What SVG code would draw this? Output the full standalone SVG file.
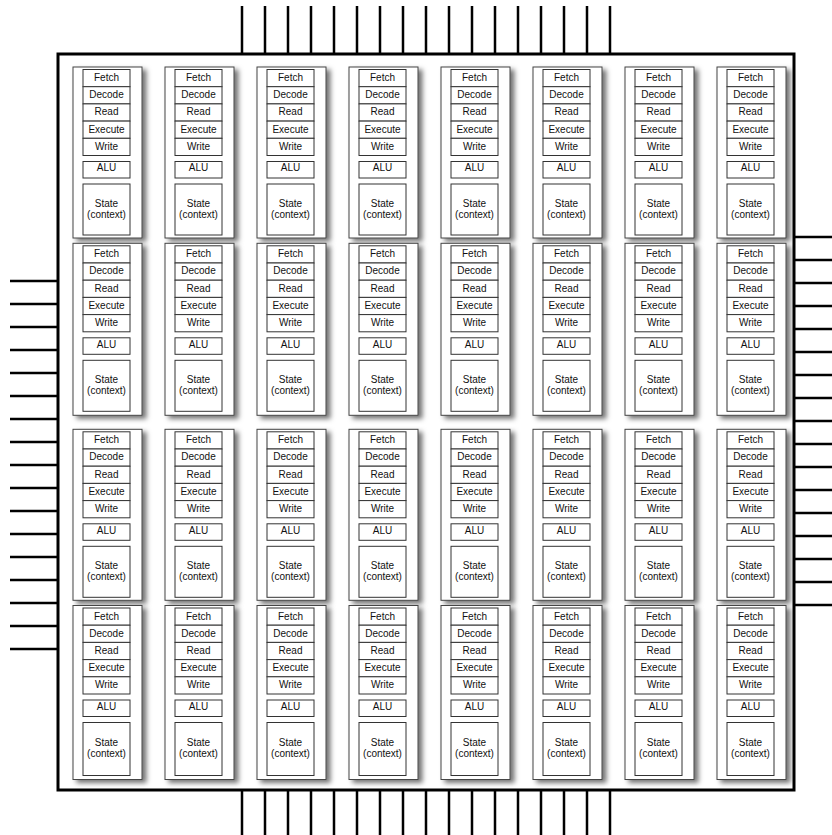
<svg xmlns="http://www.w3.org/2000/svg" width="832" height="835" viewBox="0 0 832 835">
<defs>
<filter id="sh" x="-20%" y="-10%" width="150%" height="130%"><feDropShadow dx="4" dy="3" stdDeviation="2.5" flood-color="#000" flood-opacity="0.55"/></filter>
<style>
.core{fill:#fff;stroke:#444;stroke-width:1;filter:url(#sh)}
.b{fill:#fff;stroke:#333;stroke-width:1}
text{font-family:"Liberation Sans",Arial,Helvetica,sans-serif;font-size:10px;text-anchor:middle;fill:#111}
.pin{fill:none;stroke:#000;stroke-width:2.5}
.chip{fill:none;stroke:#000;stroke-width:3}
</style>
</defs>
<rect width="832" height="835" fill="#fff"/>
<g id="pins">
<path class="pin" d="M242 6V54M265 6V54M288 6V54M311 6V54M334 6V54M357 6V54M380 6V54M403 6V54M426 6V54M449 6V54M472 6V54M495 6V54M518 6V54M541 6V54M564 6V54M587 6V54M610 6V54"/>
<path class="pin" d="M242 790V835M265 790V835M288 790V835M311 790V835M334 790V835M357 790V835M380 790V835M403 790V835M426 790V835M449 790V835M472 790V835M495 790V835M518 790V835M541 790V835M564 790V835M587 790V835M610 790V835"/>
<path class="pin" d="M10 281H58M10 304H58M10 327H58M10 350H58M10 373H58M10 396H58M10 419H58M10 442H58M10 465H58M10 488H58M10 511H58M10 534H58M10 557H58M10 580H58M10 603H58M10 626H58M10 649H58"/>
<path class="pin" d="M794 237H832M794 260H832M794 283H832M794 306H832M794 329H832M794 352H832M794 375H832M794 398H832M794 421H832M794 444H832M794 467H832M794 490H832M794 513H832M794 536H832M794 559H832M794 582H832M794 605H832"/>
</g>
<g id="chip"><rect class="chip" x="58" y="54" width="736" height="736"/></g>
<g id="cores">
<g id="core-1-1" transform="translate(73,67)"><rect class="core" width="69" height="171"/><rect class="b" x="10" y="2.5" width="47" height="17.2"/><text x="33.5" y="14">Fetch</text><rect class="b" x="10" y="19.7" width="47" height="17.2"/><text x="33.5" y="31.2">Decode</text><rect class="b" x="10" y="36.9" width="47" height="17.2"/><text x="33.5" y="48.4">Read</text><rect class="b" x="10" y="54.1" width="47" height="17.2"/><text x="33.5" y="65.6">Execute</text><rect class="b" x="10" y="71.3" width="47" height="17.2"/><text x="33.5" y="82.8">Write</text><rect class="b" x="10" y="94.5" width="47" height="16.5"/><text x="33.5" y="104.3">ALU</text><rect class="b" x="10" y="117" width="47" height="51"/><text x="33.5" y="139.5">State</text><text x="33.5" y="150.5">(context)</text></g>
<g id="core-1-2" transform="translate(165,67)"><rect class="core" width="69" height="171"/><rect class="b" x="10" y="2.5" width="47" height="17.2"/><text x="33.5" y="14">Fetch</text><rect class="b" x="10" y="19.7" width="47" height="17.2"/><text x="33.5" y="31.2">Decode</text><rect class="b" x="10" y="36.9" width="47" height="17.2"/><text x="33.5" y="48.4">Read</text><rect class="b" x="10" y="54.1" width="47" height="17.2"/><text x="33.5" y="65.6">Execute</text><rect class="b" x="10" y="71.3" width="47" height="17.2"/><text x="33.5" y="82.8">Write</text><rect class="b" x="10" y="94.5" width="47" height="16.5"/><text x="33.5" y="104.3">ALU</text><rect class="b" x="10" y="117" width="47" height="51"/><text x="33.5" y="139.5">State</text><text x="33.5" y="150.5">(context)</text></g>
<g id="core-1-3" transform="translate(257,67)"><rect class="core" width="69" height="171"/><rect class="b" x="10" y="2.5" width="47" height="17.2"/><text x="33.5" y="14">Fetch</text><rect class="b" x="10" y="19.7" width="47" height="17.2"/><text x="33.5" y="31.2">Decode</text><rect class="b" x="10" y="36.9" width="47" height="17.2"/><text x="33.5" y="48.4">Read</text><rect class="b" x="10" y="54.1" width="47" height="17.2"/><text x="33.5" y="65.6">Execute</text><rect class="b" x="10" y="71.3" width="47" height="17.2"/><text x="33.5" y="82.8">Write</text><rect class="b" x="10" y="94.5" width="47" height="16.5"/><text x="33.5" y="104.3">ALU</text><rect class="b" x="10" y="117" width="47" height="51"/><text x="33.5" y="139.5">State</text><text x="33.5" y="150.5">(context)</text></g>
<g id="core-1-4" transform="translate(349,67)"><rect class="core" width="69" height="171"/><rect class="b" x="10" y="2.5" width="47" height="17.2"/><text x="33.5" y="14">Fetch</text><rect class="b" x="10" y="19.7" width="47" height="17.2"/><text x="33.5" y="31.2">Decode</text><rect class="b" x="10" y="36.9" width="47" height="17.2"/><text x="33.5" y="48.4">Read</text><rect class="b" x="10" y="54.1" width="47" height="17.2"/><text x="33.5" y="65.6">Execute</text><rect class="b" x="10" y="71.3" width="47" height="17.2"/><text x="33.5" y="82.8">Write</text><rect class="b" x="10" y="94.5" width="47" height="16.5"/><text x="33.5" y="104.3">ALU</text><rect class="b" x="10" y="117" width="47" height="51"/><text x="33.5" y="139.5">State</text><text x="33.5" y="150.5">(context)</text></g>
<g id="core-1-5" transform="translate(441,67)"><rect class="core" width="69" height="171"/><rect class="b" x="10" y="2.5" width="47" height="17.2"/><text x="33.5" y="14">Fetch</text><rect class="b" x="10" y="19.7" width="47" height="17.2"/><text x="33.5" y="31.2">Decode</text><rect class="b" x="10" y="36.9" width="47" height="17.2"/><text x="33.5" y="48.4">Read</text><rect class="b" x="10" y="54.1" width="47" height="17.2"/><text x="33.5" y="65.6">Execute</text><rect class="b" x="10" y="71.3" width="47" height="17.2"/><text x="33.5" y="82.8">Write</text><rect class="b" x="10" y="94.5" width="47" height="16.5"/><text x="33.5" y="104.3">ALU</text><rect class="b" x="10" y="117" width="47" height="51"/><text x="33.5" y="139.5">State</text><text x="33.5" y="150.5">(context)</text></g>
<g id="core-1-6" transform="translate(533,67)"><rect class="core" width="69" height="171"/><rect class="b" x="10" y="2.5" width="47" height="17.2"/><text x="33.5" y="14">Fetch</text><rect class="b" x="10" y="19.7" width="47" height="17.2"/><text x="33.5" y="31.2">Decode</text><rect class="b" x="10" y="36.9" width="47" height="17.2"/><text x="33.5" y="48.4">Read</text><rect class="b" x="10" y="54.1" width="47" height="17.2"/><text x="33.5" y="65.6">Execute</text><rect class="b" x="10" y="71.3" width="47" height="17.2"/><text x="33.5" y="82.8">Write</text><rect class="b" x="10" y="94.5" width="47" height="16.5"/><text x="33.5" y="104.3">ALU</text><rect class="b" x="10" y="117" width="47" height="51"/><text x="33.5" y="139.5">State</text><text x="33.5" y="150.5">(context)</text></g>
<g id="core-1-7" transform="translate(625,67)"><rect class="core" width="69" height="171"/><rect class="b" x="10" y="2.5" width="47" height="17.2"/><text x="33.5" y="14">Fetch</text><rect class="b" x="10" y="19.7" width="47" height="17.2"/><text x="33.5" y="31.2">Decode</text><rect class="b" x="10" y="36.9" width="47" height="17.2"/><text x="33.5" y="48.4">Read</text><rect class="b" x="10" y="54.1" width="47" height="17.2"/><text x="33.5" y="65.6">Execute</text><rect class="b" x="10" y="71.3" width="47" height="17.2"/><text x="33.5" y="82.8">Write</text><rect class="b" x="10" y="94.5" width="47" height="16.5"/><text x="33.5" y="104.3">ALU</text><rect class="b" x="10" y="117" width="47" height="51"/><text x="33.5" y="139.5">State</text><text x="33.5" y="150.5">(context)</text></g>
<g id="core-1-8" transform="translate(717,67)"><rect class="core" width="69" height="171"/><rect class="b" x="10" y="2.5" width="47" height="17.2"/><text x="33.5" y="14">Fetch</text><rect class="b" x="10" y="19.7" width="47" height="17.2"/><text x="33.5" y="31.2">Decode</text><rect class="b" x="10" y="36.9" width="47" height="17.2"/><text x="33.5" y="48.4">Read</text><rect class="b" x="10" y="54.1" width="47" height="17.2"/><text x="33.5" y="65.6">Execute</text><rect class="b" x="10" y="71.3" width="47" height="17.2"/><text x="33.5" y="82.8">Write</text><rect class="b" x="10" y="94.5" width="47" height="16.5"/><text x="33.5" y="104.3">ALU</text><rect class="b" x="10" y="117" width="47" height="51"/><text x="33.5" y="139.5">State</text><text x="33.5" y="150.5">(context)</text></g>
<g id="core-2-1" transform="translate(73,243.3)"><rect class="core" width="69" height="172"/><rect class="b" x="10" y="2.5" width="47" height="17.2"/><text x="33.5" y="14">Fetch</text><rect class="b" x="10" y="19.7" width="47" height="17.2"/><text x="33.5" y="31.2">Decode</text><rect class="b" x="10" y="36.9" width="47" height="17.2"/><text x="33.5" y="48.4">Read</text><rect class="b" x="10" y="54.1" width="47" height="17.2"/><text x="33.5" y="65.6">Execute</text><rect class="b" x="10" y="71.3" width="47" height="17.2"/><text x="33.5" y="82.8">Write</text><rect class="b" x="10" y="94.5" width="47" height="16.5"/><text x="33.5" y="104.3">ALU</text><rect class="b" x="10" y="117" width="47" height="51"/><text x="33.5" y="139.5">State</text><text x="33.5" y="150.5">(context)</text></g>
<g id="core-2-2" transform="translate(165,243.3)"><rect class="core" width="69" height="172"/><rect class="b" x="10" y="2.5" width="47" height="17.2"/><text x="33.5" y="14">Fetch</text><rect class="b" x="10" y="19.7" width="47" height="17.2"/><text x="33.5" y="31.2">Decode</text><rect class="b" x="10" y="36.9" width="47" height="17.2"/><text x="33.5" y="48.4">Read</text><rect class="b" x="10" y="54.1" width="47" height="17.2"/><text x="33.5" y="65.6">Execute</text><rect class="b" x="10" y="71.3" width="47" height="17.2"/><text x="33.5" y="82.8">Write</text><rect class="b" x="10" y="94.5" width="47" height="16.5"/><text x="33.5" y="104.3">ALU</text><rect class="b" x="10" y="117" width="47" height="51"/><text x="33.5" y="139.5">State</text><text x="33.5" y="150.5">(context)</text></g>
<g id="core-2-3" transform="translate(257,243.3)"><rect class="core" width="69" height="172"/><rect class="b" x="10" y="2.5" width="47" height="17.2"/><text x="33.5" y="14">Fetch</text><rect class="b" x="10" y="19.7" width="47" height="17.2"/><text x="33.5" y="31.2">Decode</text><rect class="b" x="10" y="36.9" width="47" height="17.2"/><text x="33.5" y="48.4">Read</text><rect class="b" x="10" y="54.1" width="47" height="17.2"/><text x="33.5" y="65.6">Execute</text><rect class="b" x="10" y="71.3" width="47" height="17.2"/><text x="33.5" y="82.8">Write</text><rect class="b" x="10" y="94.5" width="47" height="16.5"/><text x="33.5" y="104.3">ALU</text><rect class="b" x="10" y="117" width="47" height="51"/><text x="33.5" y="139.5">State</text><text x="33.5" y="150.5">(context)</text></g>
<g id="core-2-4" transform="translate(349,243.3)"><rect class="core" width="69" height="172"/><rect class="b" x="10" y="2.5" width="47" height="17.2"/><text x="33.5" y="14">Fetch</text><rect class="b" x="10" y="19.7" width="47" height="17.2"/><text x="33.5" y="31.2">Decode</text><rect class="b" x="10" y="36.9" width="47" height="17.2"/><text x="33.5" y="48.4">Read</text><rect class="b" x="10" y="54.1" width="47" height="17.2"/><text x="33.5" y="65.6">Execute</text><rect class="b" x="10" y="71.3" width="47" height="17.2"/><text x="33.5" y="82.8">Write</text><rect class="b" x="10" y="94.5" width="47" height="16.5"/><text x="33.5" y="104.3">ALU</text><rect class="b" x="10" y="117" width="47" height="51"/><text x="33.5" y="139.5">State</text><text x="33.5" y="150.5">(context)</text></g>
<g id="core-2-5" transform="translate(441,243.3)"><rect class="core" width="69" height="172"/><rect class="b" x="10" y="2.5" width="47" height="17.2"/><text x="33.5" y="14">Fetch</text><rect class="b" x="10" y="19.7" width="47" height="17.2"/><text x="33.5" y="31.2">Decode</text><rect class="b" x="10" y="36.9" width="47" height="17.2"/><text x="33.5" y="48.4">Read</text><rect class="b" x="10" y="54.1" width="47" height="17.2"/><text x="33.5" y="65.6">Execute</text><rect class="b" x="10" y="71.3" width="47" height="17.2"/><text x="33.5" y="82.8">Write</text><rect class="b" x="10" y="94.5" width="47" height="16.5"/><text x="33.5" y="104.3">ALU</text><rect class="b" x="10" y="117" width="47" height="51"/><text x="33.5" y="139.5">State</text><text x="33.5" y="150.5">(context)</text></g>
<g id="core-2-6" transform="translate(533,243.3)"><rect class="core" width="69" height="172"/><rect class="b" x="10" y="2.5" width="47" height="17.2"/><text x="33.5" y="14">Fetch</text><rect class="b" x="10" y="19.7" width="47" height="17.2"/><text x="33.5" y="31.2">Decode</text><rect class="b" x="10" y="36.9" width="47" height="17.2"/><text x="33.5" y="48.4">Read</text><rect class="b" x="10" y="54.1" width="47" height="17.2"/><text x="33.5" y="65.6">Execute</text><rect class="b" x="10" y="71.3" width="47" height="17.2"/><text x="33.5" y="82.8">Write</text><rect class="b" x="10" y="94.5" width="47" height="16.5"/><text x="33.5" y="104.3">ALU</text><rect class="b" x="10" y="117" width="47" height="51"/><text x="33.5" y="139.5">State</text><text x="33.5" y="150.5">(context)</text></g>
<g id="core-2-7" transform="translate(625,243.3)"><rect class="core" width="69" height="172"/><rect class="b" x="10" y="2.5" width="47" height="17.2"/><text x="33.5" y="14">Fetch</text><rect class="b" x="10" y="19.7" width="47" height="17.2"/><text x="33.5" y="31.2">Decode</text><rect class="b" x="10" y="36.9" width="47" height="17.2"/><text x="33.5" y="48.4">Read</text><rect class="b" x="10" y="54.1" width="47" height="17.2"/><text x="33.5" y="65.6">Execute</text><rect class="b" x="10" y="71.3" width="47" height="17.2"/><text x="33.5" y="82.8">Write</text><rect class="b" x="10" y="94.5" width="47" height="16.5"/><text x="33.5" y="104.3">ALU</text><rect class="b" x="10" y="117" width="47" height="51"/><text x="33.5" y="139.5">State</text><text x="33.5" y="150.5">(context)</text></g>
<g id="core-2-8" transform="translate(717,243.3)"><rect class="core" width="69" height="172"/><rect class="b" x="10" y="2.5" width="47" height="17.2"/><text x="33.5" y="14">Fetch</text><rect class="b" x="10" y="19.7" width="47" height="17.2"/><text x="33.5" y="31.2">Decode</text><rect class="b" x="10" y="36.9" width="47" height="17.2"/><text x="33.5" y="48.4">Read</text><rect class="b" x="10" y="54.1" width="47" height="17.2"/><text x="33.5" y="65.6">Execute</text><rect class="b" x="10" y="71.3" width="47" height="17.2"/><text x="33.5" y="82.8">Write</text><rect class="b" x="10" y="94.5" width="47" height="16.5"/><text x="33.5" y="104.3">ALU</text><rect class="b" x="10" y="117" width="47" height="51"/><text x="33.5" y="139.5">State</text><text x="33.5" y="150.5">(context)</text></g>
<g id="core-3-1" transform="translate(73,429.3)"><rect class="core" width="69" height="171"/><rect class="b" x="10" y="2.5" width="47" height="17.2"/><text x="33.5" y="14">Fetch</text><rect class="b" x="10" y="19.7" width="47" height="17.2"/><text x="33.5" y="31.2">Decode</text><rect class="b" x="10" y="36.9" width="47" height="17.2"/><text x="33.5" y="48.4">Read</text><rect class="b" x="10" y="54.1" width="47" height="17.2"/><text x="33.5" y="65.6">Execute</text><rect class="b" x="10" y="71.3" width="47" height="17.2"/><text x="33.5" y="82.8">Write</text><rect class="b" x="10" y="94.5" width="47" height="16.5"/><text x="33.5" y="104.3">ALU</text><rect class="b" x="10" y="117" width="47" height="51"/><text x="33.5" y="139.5">State</text><text x="33.5" y="150.5">(context)</text></g>
<g id="core-3-2" transform="translate(165,429.3)"><rect class="core" width="69" height="171"/><rect class="b" x="10" y="2.5" width="47" height="17.2"/><text x="33.5" y="14">Fetch</text><rect class="b" x="10" y="19.7" width="47" height="17.2"/><text x="33.5" y="31.2">Decode</text><rect class="b" x="10" y="36.9" width="47" height="17.2"/><text x="33.5" y="48.4">Read</text><rect class="b" x="10" y="54.1" width="47" height="17.2"/><text x="33.5" y="65.6">Execute</text><rect class="b" x="10" y="71.3" width="47" height="17.2"/><text x="33.5" y="82.8">Write</text><rect class="b" x="10" y="94.5" width="47" height="16.5"/><text x="33.5" y="104.3">ALU</text><rect class="b" x="10" y="117" width="47" height="51"/><text x="33.5" y="139.5">State</text><text x="33.5" y="150.5">(context)</text></g>
<g id="core-3-3" transform="translate(257,429.3)"><rect class="core" width="69" height="171"/><rect class="b" x="10" y="2.5" width="47" height="17.2"/><text x="33.5" y="14">Fetch</text><rect class="b" x="10" y="19.7" width="47" height="17.2"/><text x="33.5" y="31.2">Decode</text><rect class="b" x="10" y="36.9" width="47" height="17.2"/><text x="33.5" y="48.4">Read</text><rect class="b" x="10" y="54.1" width="47" height="17.2"/><text x="33.5" y="65.6">Execute</text><rect class="b" x="10" y="71.3" width="47" height="17.2"/><text x="33.5" y="82.8">Write</text><rect class="b" x="10" y="94.5" width="47" height="16.5"/><text x="33.5" y="104.3">ALU</text><rect class="b" x="10" y="117" width="47" height="51"/><text x="33.5" y="139.5">State</text><text x="33.5" y="150.5">(context)</text></g>
<g id="core-3-4" transform="translate(349,429.3)"><rect class="core" width="69" height="171"/><rect class="b" x="10" y="2.5" width="47" height="17.2"/><text x="33.5" y="14">Fetch</text><rect class="b" x="10" y="19.7" width="47" height="17.2"/><text x="33.5" y="31.2">Decode</text><rect class="b" x="10" y="36.9" width="47" height="17.2"/><text x="33.5" y="48.4">Read</text><rect class="b" x="10" y="54.1" width="47" height="17.2"/><text x="33.5" y="65.6">Execute</text><rect class="b" x="10" y="71.3" width="47" height="17.2"/><text x="33.5" y="82.8">Write</text><rect class="b" x="10" y="94.5" width="47" height="16.5"/><text x="33.5" y="104.3">ALU</text><rect class="b" x="10" y="117" width="47" height="51"/><text x="33.5" y="139.5">State</text><text x="33.5" y="150.5">(context)</text></g>
<g id="core-3-5" transform="translate(441,429.3)"><rect class="core" width="69" height="171"/><rect class="b" x="10" y="2.5" width="47" height="17.2"/><text x="33.5" y="14">Fetch</text><rect class="b" x="10" y="19.7" width="47" height="17.2"/><text x="33.5" y="31.2">Decode</text><rect class="b" x="10" y="36.9" width="47" height="17.2"/><text x="33.5" y="48.4">Read</text><rect class="b" x="10" y="54.1" width="47" height="17.2"/><text x="33.5" y="65.6">Execute</text><rect class="b" x="10" y="71.3" width="47" height="17.2"/><text x="33.5" y="82.8">Write</text><rect class="b" x="10" y="94.5" width="47" height="16.5"/><text x="33.5" y="104.3">ALU</text><rect class="b" x="10" y="117" width="47" height="51"/><text x="33.5" y="139.5">State</text><text x="33.5" y="150.5">(context)</text></g>
<g id="core-3-6" transform="translate(533,429.3)"><rect class="core" width="69" height="171"/><rect class="b" x="10" y="2.5" width="47" height="17.2"/><text x="33.5" y="14">Fetch</text><rect class="b" x="10" y="19.7" width="47" height="17.2"/><text x="33.5" y="31.2">Decode</text><rect class="b" x="10" y="36.9" width="47" height="17.2"/><text x="33.5" y="48.4">Read</text><rect class="b" x="10" y="54.1" width="47" height="17.2"/><text x="33.5" y="65.6">Execute</text><rect class="b" x="10" y="71.3" width="47" height="17.2"/><text x="33.5" y="82.8">Write</text><rect class="b" x="10" y="94.5" width="47" height="16.5"/><text x="33.5" y="104.3">ALU</text><rect class="b" x="10" y="117" width="47" height="51"/><text x="33.5" y="139.5">State</text><text x="33.5" y="150.5">(context)</text></g>
<g id="core-3-7" transform="translate(625,429.3)"><rect class="core" width="69" height="171"/><rect class="b" x="10" y="2.5" width="47" height="17.2"/><text x="33.5" y="14">Fetch</text><rect class="b" x="10" y="19.7" width="47" height="17.2"/><text x="33.5" y="31.2">Decode</text><rect class="b" x="10" y="36.9" width="47" height="17.2"/><text x="33.5" y="48.4">Read</text><rect class="b" x="10" y="54.1" width="47" height="17.2"/><text x="33.5" y="65.6">Execute</text><rect class="b" x="10" y="71.3" width="47" height="17.2"/><text x="33.5" y="82.8">Write</text><rect class="b" x="10" y="94.5" width="47" height="16.5"/><text x="33.5" y="104.3">ALU</text><rect class="b" x="10" y="117" width="47" height="51"/><text x="33.5" y="139.5">State</text><text x="33.5" y="150.5">(context)</text></g>
<g id="core-3-8" transform="translate(717,429.3)"><rect class="core" width="69" height="171"/><rect class="b" x="10" y="2.5" width="47" height="17.2"/><text x="33.5" y="14">Fetch</text><rect class="b" x="10" y="19.7" width="47" height="17.2"/><text x="33.5" y="31.2">Decode</text><rect class="b" x="10" y="36.9" width="47" height="17.2"/><text x="33.5" y="48.4">Read</text><rect class="b" x="10" y="54.1" width="47" height="17.2"/><text x="33.5" y="65.6">Execute</text><rect class="b" x="10" y="71.3" width="47" height="17.2"/><text x="33.5" y="82.8">Write</text><rect class="b" x="10" y="94.5" width="47" height="16.5"/><text x="33.5" y="104.3">ALU</text><rect class="b" x="10" y="117" width="47" height="51"/><text x="33.5" y="139.5">State</text><text x="33.5" y="150.5">(context)</text></g>
<g id="core-4-1" transform="translate(73,605.5)"><rect class="core" width="69" height="174"/><rect class="b" x="10" y="2.5" width="47" height="17.2"/><text x="33.5" y="14">Fetch</text><rect class="b" x="10" y="19.7" width="47" height="17.2"/><text x="33.5" y="31.2">Decode</text><rect class="b" x="10" y="36.9" width="47" height="17.2"/><text x="33.5" y="48.4">Read</text><rect class="b" x="10" y="54.1" width="47" height="17.2"/><text x="33.5" y="65.6">Execute</text><rect class="b" x="10" y="71.3" width="47" height="17.2"/><text x="33.5" y="82.8">Write</text><rect class="b" x="10" y="94.5" width="47" height="16.5"/><text x="33.5" y="104.3">ALU</text><rect class="b" x="10" y="117" width="47" height="53"/><text x="33.5" y="140.5">State</text><text x="33.5" y="151.5">(context)</text></g>
<g id="core-4-2" transform="translate(165,605.5)"><rect class="core" width="69" height="174"/><rect class="b" x="10" y="2.5" width="47" height="17.2"/><text x="33.5" y="14">Fetch</text><rect class="b" x="10" y="19.7" width="47" height="17.2"/><text x="33.5" y="31.2">Decode</text><rect class="b" x="10" y="36.9" width="47" height="17.2"/><text x="33.5" y="48.4">Read</text><rect class="b" x="10" y="54.1" width="47" height="17.2"/><text x="33.5" y="65.6">Execute</text><rect class="b" x="10" y="71.3" width="47" height="17.2"/><text x="33.5" y="82.8">Write</text><rect class="b" x="10" y="94.5" width="47" height="16.5"/><text x="33.5" y="104.3">ALU</text><rect class="b" x="10" y="117" width="47" height="53"/><text x="33.5" y="140.5">State</text><text x="33.5" y="151.5">(context)</text></g>
<g id="core-4-3" transform="translate(257,605.5)"><rect class="core" width="69" height="174"/><rect class="b" x="10" y="2.5" width="47" height="17.2"/><text x="33.5" y="14">Fetch</text><rect class="b" x="10" y="19.7" width="47" height="17.2"/><text x="33.5" y="31.2">Decode</text><rect class="b" x="10" y="36.9" width="47" height="17.2"/><text x="33.5" y="48.4">Read</text><rect class="b" x="10" y="54.1" width="47" height="17.2"/><text x="33.5" y="65.6">Execute</text><rect class="b" x="10" y="71.3" width="47" height="17.2"/><text x="33.5" y="82.8">Write</text><rect class="b" x="10" y="94.5" width="47" height="16.5"/><text x="33.5" y="104.3">ALU</text><rect class="b" x="10" y="117" width="47" height="53"/><text x="33.5" y="140.5">State</text><text x="33.5" y="151.5">(context)</text></g>
<g id="core-4-4" transform="translate(349,605.5)"><rect class="core" width="69" height="174"/><rect class="b" x="10" y="2.5" width="47" height="17.2"/><text x="33.5" y="14">Fetch</text><rect class="b" x="10" y="19.7" width="47" height="17.2"/><text x="33.5" y="31.2">Decode</text><rect class="b" x="10" y="36.9" width="47" height="17.2"/><text x="33.5" y="48.4">Read</text><rect class="b" x="10" y="54.1" width="47" height="17.2"/><text x="33.5" y="65.6">Execute</text><rect class="b" x="10" y="71.3" width="47" height="17.2"/><text x="33.5" y="82.8">Write</text><rect class="b" x="10" y="94.5" width="47" height="16.5"/><text x="33.5" y="104.3">ALU</text><rect class="b" x="10" y="117" width="47" height="53"/><text x="33.5" y="140.5">State</text><text x="33.5" y="151.5">(context)</text></g>
<g id="core-4-5" transform="translate(441,605.5)"><rect class="core" width="69" height="174"/><rect class="b" x="10" y="2.5" width="47" height="17.2"/><text x="33.5" y="14">Fetch</text><rect class="b" x="10" y="19.7" width="47" height="17.2"/><text x="33.5" y="31.2">Decode</text><rect class="b" x="10" y="36.9" width="47" height="17.2"/><text x="33.5" y="48.4">Read</text><rect class="b" x="10" y="54.1" width="47" height="17.2"/><text x="33.5" y="65.6">Execute</text><rect class="b" x="10" y="71.3" width="47" height="17.2"/><text x="33.5" y="82.8">Write</text><rect class="b" x="10" y="94.5" width="47" height="16.5"/><text x="33.5" y="104.3">ALU</text><rect class="b" x="10" y="117" width="47" height="53"/><text x="33.5" y="140.5">State</text><text x="33.5" y="151.5">(context)</text></g>
<g id="core-4-6" transform="translate(533,605.5)"><rect class="core" width="69" height="174"/><rect class="b" x="10" y="2.5" width="47" height="17.2"/><text x="33.5" y="14">Fetch</text><rect class="b" x="10" y="19.7" width="47" height="17.2"/><text x="33.5" y="31.2">Decode</text><rect class="b" x="10" y="36.9" width="47" height="17.2"/><text x="33.5" y="48.4">Read</text><rect class="b" x="10" y="54.1" width="47" height="17.2"/><text x="33.5" y="65.6">Execute</text><rect class="b" x="10" y="71.3" width="47" height="17.2"/><text x="33.5" y="82.8">Write</text><rect class="b" x="10" y="94.5" width="47" height="16.5"/><text x="33.5" y="104.3">ALU</text><rect class="b" x="10" y="117" width="47" height="53"/><text x="33.5" y="140.5">State</text><text x="33.5" y="151.5">(context)</text></g>
<g id="core-4-7" transform="translate(625,605.5)"><rect class="core" width="69" height="174"/><rect class="b" x="10" y="2.5" width="47" height="17.2"/><text x="33.5" y="14">Fetch</text><rect class="b" x="10" y="19.7" width="47" height="17.2"/><text x="33.5" y="31.2">Decode</text><rect class="b" x="10" y="36.9" width="47" height="17.2"/><text x="33.5" y="48.4">Read</text><rect class="b" x="10" y="54.1" width="47" height="17.2"/><text x="33.5" y="65.6">Execute</text><rect class="b" x="10" y="71.3" width="47" height="17.2"/><text x="33.5" y="82.8">Write</text><rect class="b" x="10" y="94.5" width="47" height="16.5"/><text x="33.5" y="104.3">ALU</text><rect class="b" x="10" y="117" width="47" height="53"/><text x="33.5" y="140.5">State</text><text x="33.5" y="151.5">(context)</text></g>
<g id="core-4-8" transform="translate(717,605.5)"><rect class="core" width="69" height="174"/><rect class="b" x="10" y="2.5" width="47" height="17.2"/><text x="33.5" y="14">Fetch</text><rect class="b" x="10" y="19.7" width="47" height="17.2"/><text x="33.5" y="31.2">Decode</text><rect class="b" x="10" y="36.9" width="47" height="17.2"/><text x="33.5" y="48.4">Read</text><rect class="b" x="10" y="54.1" width="47" height="17.2"/><text x="33.5" y="65.6">Execute</text><rect class="b" x="10" y="71.3" width="47" height="17.2"/><text x="33.5" y="82.8">Write</text><rect class="b" x="10" y="94.5" width="47" height="16.5"/><text x="33.5" y="104.3">ALU</text><rect class="b" x="10" y="117" width="47" height="53"/><text x="33.5" y="140.5">State</text><text x="33.5" y="151.5">(context)</text></g>
</g>
</svg>
